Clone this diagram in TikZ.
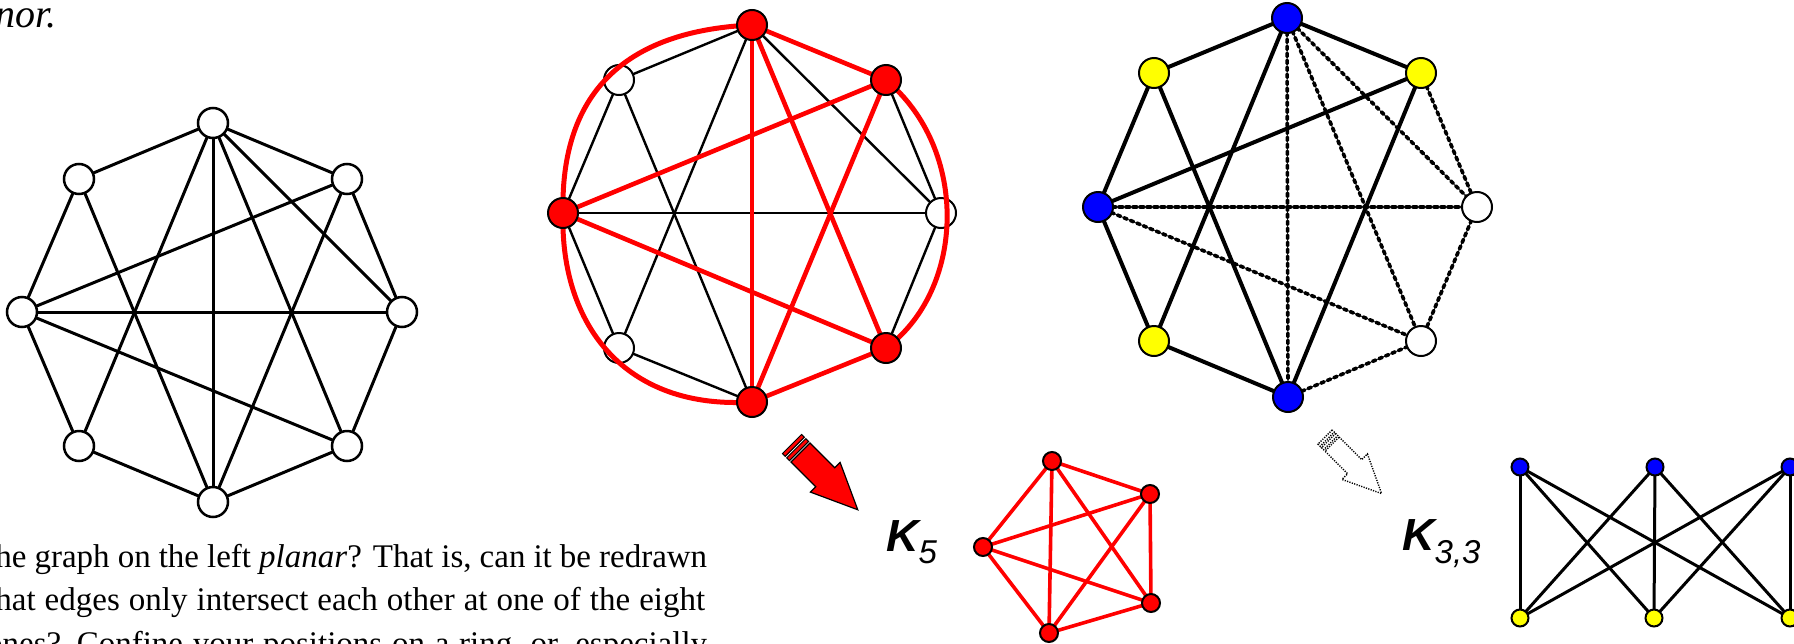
\documentclass[tikz,border=0pt]{standalone}
\usepackage{fontspec}
\setmainfont{Liberation Serif}
\setsansfont{Liberation Sans}
\usepackage{tkz-euclide}

\definecolor{vred}{RGB}{255,0,0}
\definecolor{vblue}{RGB}{0,0,255}
\definecolor{vyellow}{RGB}{255,255,0}

\tikzset{
  gedge/.style={black, line width=3pt},
  thinedge/.style={black, line width=2.4pt},
  redge/.style={vred, line width=4.6pt},
  rcurve/.style={vred, line width=5pt},
  dotedge/.style={black, line width=3.6pt, dash pattern=on 3.6pt off 3.4pt},
  vtx/.style={draw=black, line width=2pt},
  arrdot/.style={draw=black, line width=1.4pt, dash pattern=on 1.2pt off 1.3pt},
  klabel/.style={font=\sffamily\bfseries\itshape\fontsize{45}{45}\selectfont, inner sep=0pt, anchor=base west},
  txtline/.style={font=\fontsize{33}{33}\selectfont, inner sep=0pt, anchor=base west},
}

\begin{document}
\begin{tikzpicture}[x=1pt,y=-1pt]
      \useasboundingbox (0,0) rectangle (1794,643);
      % 1. 左圖：八個頂點
      \tkzDefPoint(213,123){P_1}
      \tkzDefPoint(347,179){P_2}
      \tkzDefPoint(402,312){P_3}
      \tkzDefPoint(347,446){P_4}
      \tkzDefPoint(213,502){P_5}
      \tkzDefPoint(79,446){P_6}
      \tkzDefPoint(22,312){P_7}
      \tkzDefPoint(79,179){P_8}
      \tkzDrawSegments[gedge](P_1,P_2 P_2,P_3 P_3,P_4 P_4,P_5 P_5,P_6 P_6,P_7 P_7,P_8 P_8,P_1)
      \tkzDrawSegments[gedge](P_1,P_5 P_1,P_6 P_1,P_4 P_1,P_3 P_8,P_5 P_2,P_5 P_7,P_2 P_7,P_3 P_7,P_4)
      \foreach \v in {P_1,P_2,P_3,P_4,P_5,P_6,P_7,P_8}
        \filldraw[vtx, line width=2.5pt, fill=white] (\v) circle (15);

      % 2. 中圖：同一個圖，標出 K_5 的細分
      \tkzDefPoint(752,25){Q_1}
      \tkzDefPoint(886,80){Q_2}
      \tkzDefPoint(941,213){Q_3}
      \tkzDefPoint(886,348){Q_4}
      \tkzDefPoint(752,402){Q_5}
      \tkzDefPoint(619,348){Q_6}
      \tkzDefPoint(563,213){Q_7}
      \tkzDefPoint(619,80){Q_8}
      \tkzDrawSegments[thinedge](Q_1,Q_8 Q_8,Q_7 Q_8,Q_5 Q_7,Q_6 Q_6,Q_5 Q_6,Q_1 Q_1,Q_3 Q_7,Q_3 Q_2,Q_3 Q_3,Q_4)
      \tkzDrawSegments[redge](Q_1,Q_2 Q_1,Q_5 Q_1,Q_4 Q_7,Q_2 Q_7,Q_4 Q_2,Q_5 Q_4,Q_5)
      \foreach \v in {Q_3,Q_6,Q_8}
        \filldraw[vtx, fill=white] (\v) circle (15);
      %\tkzDrawSegments[red](Q_1,Q_7 Q_7,Q_5 Q_2,Q_4)
      \draw[rcurve] (Q_1) .. controls (640,30) and (560,80) .. (Q_7);
      \draw[rcurve] (Q_7) .. controls (560,325) and (625,410) .. (Q_5);
      \draw[rcurve] (Q_2) .. controls (970,150) and (965,290) .. (Q_4);
      \foreach \v in {Q_1,Q_2,Q_4,Q_5,Q_7}
        \filldraw[vtx, fill=vred] (\v) circle (15);

      % 3. 右圖：K_{3,3} 的細分，其餘邊用點線
      \tkzDefPoint(1287,18){R_1}
      \tkzDefPoint(1421,73){R_2}
      \tkzDefPoint(1477,207){R_3}
      \tkzDefPoint(1421,341){R_4}
      \tkzDefPoint(1288,397){R_5}
      \tkzDefPoint(1154,341){R_6}
      \tkzDefPoint(1098,207){R_7}
      \tkzDefPoint(1154,73){R_8}
      \tkzDrawSegments[dotedge](R_1,R_5 R_1,R_4 R_1,R_3 R_2,R_3 R_3,R_4 R_7,R_3 R_7,R_4 R_4,R_5)
      \tkzDrawSegments[gedge, line width=4pt](R_1,R_8 R_1,R_2 R_8,R_7 R_8,R_5 R_7,R_6 R_6,R_5 R_7,R_2 R_1,R_6 R_2,R_5)
      \foreach \v in {R_1,R_5,R_7}
        \filldraw[vtx, fill=vblue] (\v) circle (15);
      \foreach \v in {R_2,R_6,R_8}
        \filldraw[vtx, fill=vyellow] (\v) circle (15);
      \foreach \v in {R_3,R_4}
        \filldraw[vtx, fill=white] (\v) circle (15);

      % 4. 紅色粗箭頭
      \begin{scope}[shift={(792,444)}, rotate=-45]
        \filldraw[fill=vred, draw=black, line width=1pt] (0,-13.5) rectangle (4,13.5);
        \filldraw[fill=vred, draw=black, line width=1pt] (6,-13.5) rectangle (10,13.5);
        \filldraw[fill=vred, draw=black, line width=1.2pt]
          (12,-13.5) -- (47,-13.5) -- (47,-21) -- (93,0) -- (47,21) -- (47,13.5) -- (12,13.5) -- cycle;
      \end{scope}

      % 5. K_5
      \node[klabel] (lblK5) at (886,551) {K\raisebox{-12pt}{\fontsize{33}{33}\selectfont\mdseries 5}};
      \tkzDefPoint(1052,461){S_1}
      \tkzDefPoint(1150,494){S_2}
      \tkzDefPoint(1151,603){S_3}
      \tkzDefPoint(1049,633){S_4}
      \tkzDefPoint(983,547){S_5}
      \tkzDrawSegments[vred, line width=3.6pt](S_1,S_2 S_2,S_3 S_3,S_4 S_4,S_5 S_5,S_1 S_1,S_3 S_1,S_4 S_2,S_4 S_2,S_5 S_3,S_5)
      \foreach \v in {S_1,S_2,S_3,S_4,S_5}
        \filldraw[vtx, fill=vred] (\v) circle (9);

      % 6. 點線箭頭
      \begin{scope}[shift={(1325,437)}, rotate=-45]
        \draw[arrdot] (0,-10) rectangle (3,10);
        \draw[arrdot] (5,-10) rectangle (8,10);
        \draw[arrdot] (10,-10) -- (42,-10) -- (42,-18) -- (80,0) -- (42,18) -- (42,10) -- (10,10) -- cycle;
      \end{scope}

      % 7. K_{3,3}
      \node[klabel] (lblK33) at (1402,550) {K\raisebox{-13pt}{\fontsize{33}{33}\selectfont\mdseries 3,3}};
      \tkzDefPoint(1520,467){U_1}
      \tkzDefPoint(1655,467){U_2}
      \tkzDefPoint(1790,467){U_3}
      \tkzDefPoint(1520,618){V_1}
      \tkzDefPoint(1654,618){V_2}
      \tkzDefPoint(1790,618){V_3}
      \tkzDrawSegments[black, line width=3pt](U_1,V_1 U_1,V_2 U_1,V_3 U_2,V_1 U_2,V_2 U_2,V_3 U_3,V_1 U_3,V_2 U_3,V_3)
      \foreach \v in {U_1,U_2,U_3}
        \filldraw[vtx, fill=vblue] (\v) circle (8.5);
      \foreach \v in {V_1,V_2,V_3}
        \filldraw[vtx, fill=vyellow] (\v) circle (8.5);

      % 8. 文字
      \node[font=\itshape\fontsize{40}{40}\selectfont, inner sep=0pt, anchor=base west] (title) at (-5,27) {nor.};
      \node[txtline] (txtA) at (-4.8,567) {\makebox[711.8pt][s]{he graph on the left \textit{planar}?  That is, can it be redrawn}};
      \node[txtline] (txtB) at (-4.8,610) {\makebox[709.8pt][s]{hat edges only intersect each other at one of the eight}};
      \node[txtline] (txtC) at (-14,654) {\makebox[721pt][s]{ones?  Confine your positions on a ring, or, especially}};
\end{tikzpicture}
\end{document}
